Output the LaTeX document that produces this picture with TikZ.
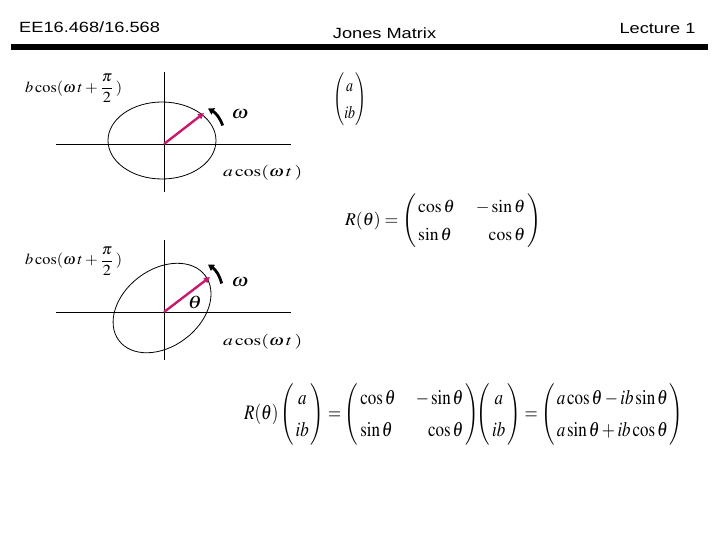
\documentclass[tikz,border=0pt]{standalone}
\usepackage{amsmath}
\usepackage{mathptmx}
\usepackage{fontspec}
\setmainfont{Liberation Serif}
\setsansfont{Liberation Sans}
\usepackage{graphicx}
\usetikzlibrary{arrows.meta}
\definecolor{vec}{RGB}{200,25,110}
\newcommand{\jcv}{\left(\begin{array}{@{\,}c@{\,}}a\\ ib\end{array}\right)}
\newcommand{\jcvtight}{\left(\begin{array}{@{}c@{}}a\\ ib\end{array}\right)}
\newcommand{\rotm}{\left(\begin{array}{@{\,}l@{\hspace{12pt}}r@{\,}}\cos\theta & -\sin\theta\\ \sin\theta & \cos\theta\end{array}\right)}
\begin{document}
\begin{tikzpicture}[x=1bp,y=-1bp,
  hdr/.style={font=\sffamily\fontsize{14.8bp}{17bp}\selectfont, inner sep=0, xscale=1.23},
  eq/.style={inner sep=0, anchor=north west},
  axis/.style={line width=0.9bp},
  ell/.style={line width=0.8bp},
  vecarrow/.style={draw=vec, line width=2.4bp, -{Triangle[length=6bp,width=6bp]}},
  rot/.style={line width=2.8bp, -{Triangle[length=6bp,width=7bp]}},
  sym/.style={inner sep=0, xscale=1.23}]
\useasboundingbox (0,0) rectangle (720,540);
\renewcommand{\arraystretch}{1.3}
% header
\node[hdr, anchor=base west] (title) at (19,32.7) {EE16.468/16.568};
\node[hdr, anchor=base west] (topic) at (332.7,38.3) {Jones Matrix};
\node[hdr, anchor=base east] (lect) at (695.7,34) {Lecture 1};
\fill (11,44) rectangle (708,50);
% diagram 1
\coordinate (h1l) at (56,144); \coordinate (h1r) at (291,144);
\coordinate (v1t) at (164,72); \coordinate (v1b) at (164,192);
\coordinate (o1) at (164,144); \coordinate (t1) at (204,113);
\draw[axis] (h1l) -- (h1r);
\draw[axis] (v1t) -- (v1b);
\draw[ell] (162,140.5) ellipse [x radius=54, y radius=38.5];
\draw[vecarrow] (o1) -- (t1);
\coordinate (r1a) at (222.7,125.5); \coordinate (r1b) at (208,108.5);
\draw[rot] (r1a) to[bend right=20] (r1b);
\node[sym] (w1) at (240,114) {\fontsize{18bp}{20bp}\selectfont$\omega$};
\node[eq] (bl1) at (25,74) {\resizebox*{97bp}{28.5bp}{$b\cos(\omega\mkern2mu t+\dfrac{\pi}{2}\,)$}};
\node[eq] (al1) at (223,165) {\resizebox*{79bp}{15bp}{$a\cos(\omega\mkern2mu t\,)$}};
% diagram 2
\coordinate (h2l) at (56,312); \coordinate (h2r) at (291,312);
\coordinate (v2t) at (164,240); \coordinate (v2b) at (164,360);
\coordinate (o2) at (164,312); \coordinate (t2) at (210,277);
\coordinate (c2) at (162,308);
\draw[axis] (h2l) -- (h2r);
\draw[axis] (v2t) -- (v2b);
\draw[ell, rotate around={37:(c2)}] (c2) ellipse [x radius=54, y radius=38.5];
\draw[vecarrow] (o2) -- (t2);
\coordinate (r2a) at (221.7,283.5); \coordinate (r2b) at (208,264.5);
\draw[rot] (r2a) to[bend right=20] (r2b);
\node[sym] (w2) at (240,282) {\fontsize{18bp}{20bp}\selectfont$\omega$};
\node[sym] (th) at (195,302) {\fontsize{18bp}{20bp}\selectfont$\theta$};
\node[eq] (bl2) at (25,246.5) {\resizebox*{97bp}{28.5bp}{$b\cos(\omega\mkern2mu t+\dfrac{\pi}{2}\,)$}};
\node[eq] (al2) at (223,334) {\resizebox*{79bp}{15bp}{$a\cos(\omega\mkern2mu t\,)$}};
% right side
\node[eq] (jv) at (333,72) {\resizebox*{33bp}{55bp}{$\jcvtight$}};
\node[eq] (rmat) at (345,193) {\resizebox*{196bp}{56bp}{$R(\theta)=\rotm$}};
\node[eq] (prod) at (244,382) {\resizebox*{439bp}{64bp}{$R(\theta)\jcv=\rotm\!\!\jcv=\left(\begin{array}{@{\,}l@{\,}}a\cos\theta-ib\sin\theta\\ a\sin\theta+ib\cos\theta\end{array}\right)$}};
\end{tikzpicture}
\end{document}
